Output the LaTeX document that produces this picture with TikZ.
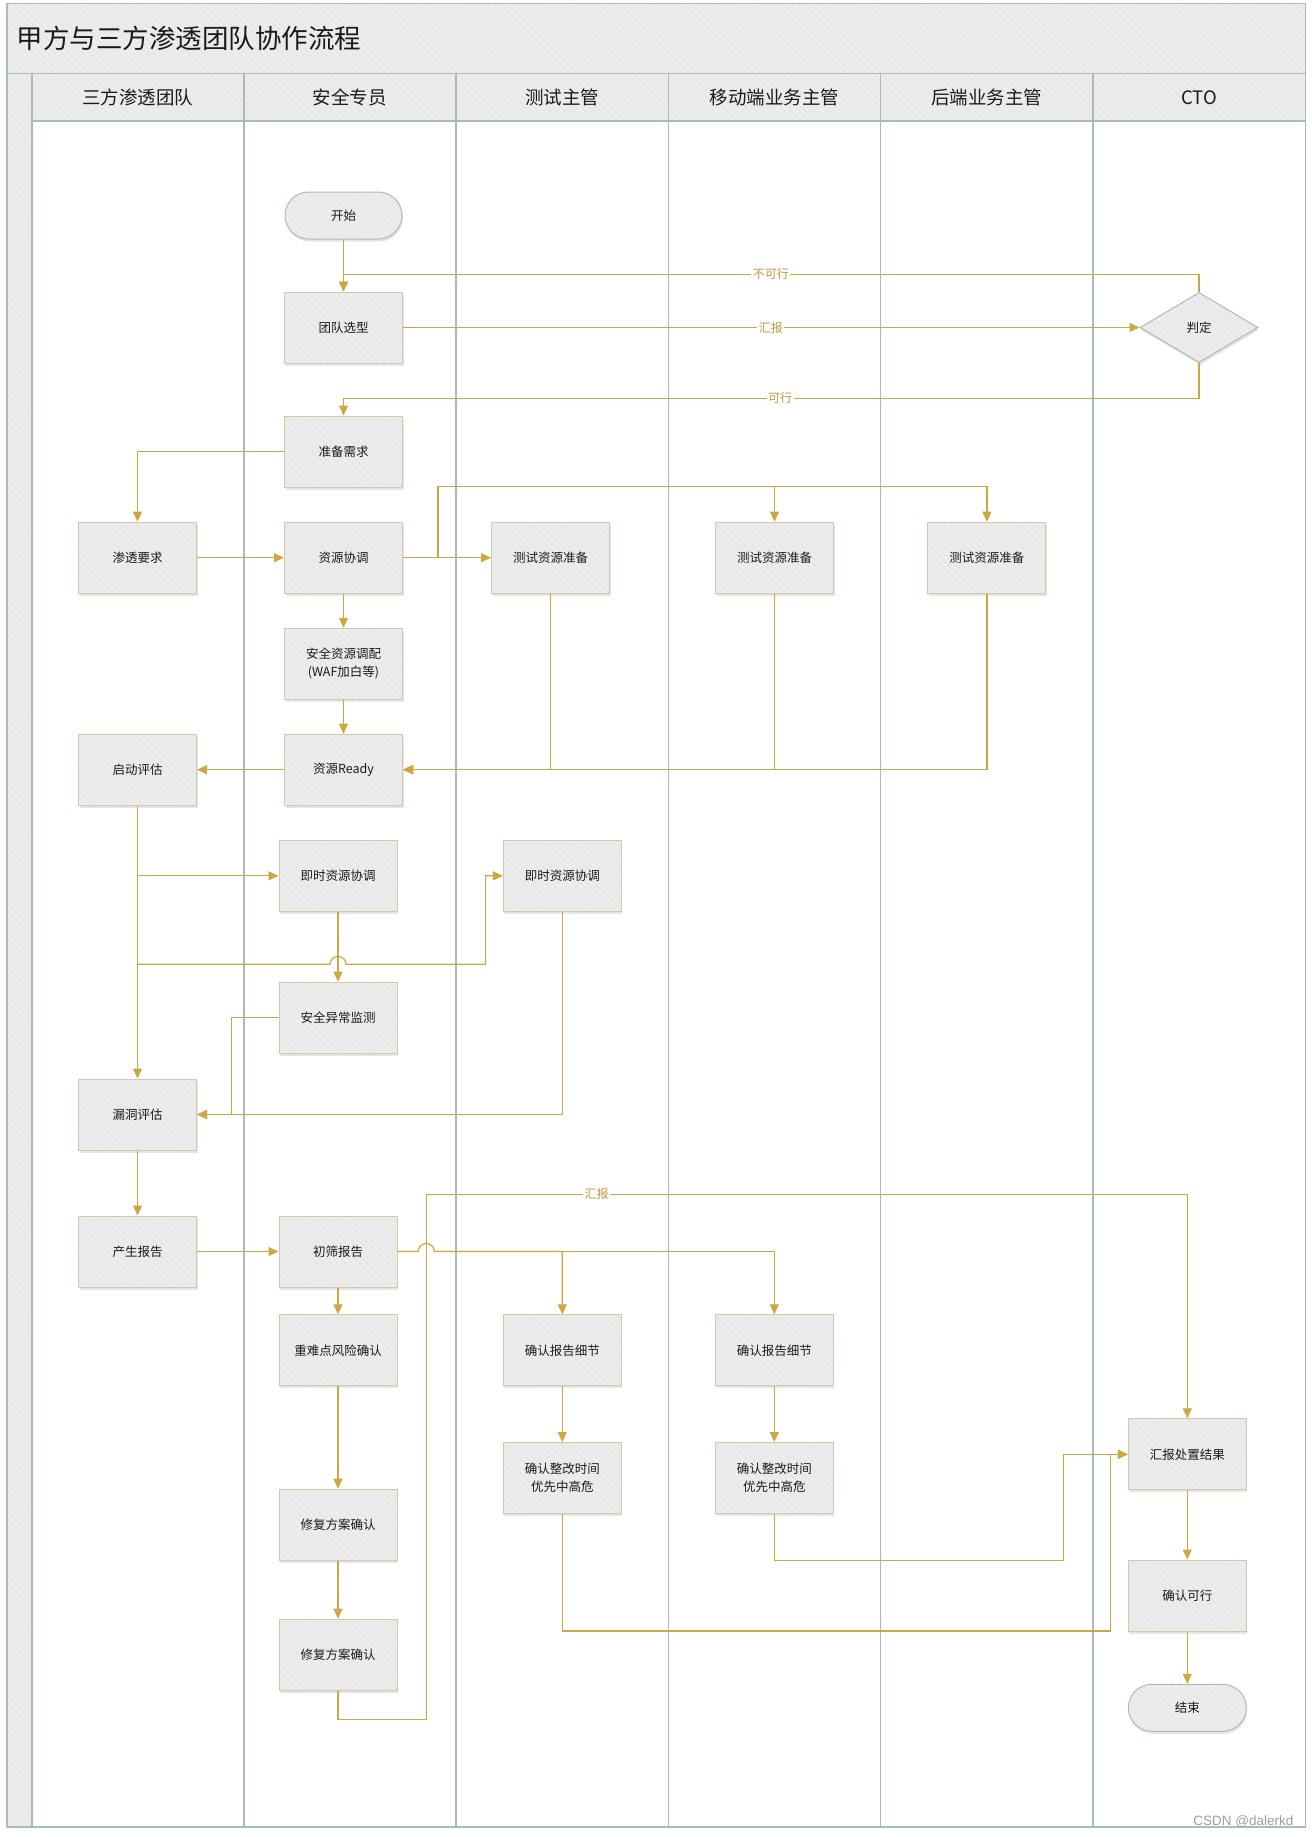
\documentclass[tikz,border=0pt]{standalone}
\usepackage{fontspec}
\newfontfamily\cjk{Noto Sans CJK SC}
\newfontfamily\wm{Liberation Sans}
\usetikzlibrary{arrows.meta,shapes.geometric,shadows,patterns.meta,calc}
\definecolor{gold}{HTML}{CCA843}
\definecolor{lane}{HTML}{A9BDB7}
\definecolor{boxedge}{HTML}{D2C9A8}
\definecolor{bg}{HTML}{ECECEC}
\definecolor{hatch}{HTML}{E6E6E6}
\definecolor{lbl}{HTML}{B8993A}
\definecolor{ink}{HTML}{1A1A1A}
\begin{document}
\begin{tikzpicture}[x=1pt,y=-1pt,
  every node/.style={font=\cjk, text=ink},
  hatched/.style={preaction={fill=bg}, pattern={Lines[angle=-45,distance=5pt,line width=1pt]}, pattern color=hatch},
  shad/.style={drop shadow={shadow xshift=1pt,shadow yshift=-2.5pt,opacity=0.22,fill=black!45}},
  proc/.style={rectangle, draw=boxedge, line width=1pt, minimum width=118pt, minimum height=71pt, inner sep=0pt, shad, hatched, font=\cjk\fontsize{12.5}{18}\selectfont, align=center},
  term/.style={rectangle, rounded corners=23.5pt, draw=lane, line width=1pt, minimum width=117pt, minimum height=47pt, inner sep=0pt, shad, hatched, font=\cjk\fontsize{12.5}{16}\selectfont},
  decide/.style={diamond, aspect=1.686, draw=lane, line width=1pt, minimum width=118pt, minimum height=70pt, inner sep=0pt, shad, hatched, font=\cjk\fontsize{12.5}{16}\selectfont},
  laneline/.style={draw=lane, line width=1.8pt},
  flow/.style={draw=gold, line width=1.2pt, -{Triangle[length=10pt,width=9pt]}},
  lbl/.style={fill=white, inner sep=1.5pt, text=lbl, font=\cjk\fontsize{12}{14}\selectfont},
  hdr/.style={font=\cjk\fontsize{18.5}{22}\selectfont}
]
\useasboundingbox (0,0) rectangle (1312,1837);
\fill[white] (0,0) rectangle (1312,1837);
% frame, title band, header row, left strip
\path[hatched] (7,3.5) rectangle (1305.5,73.5);
\path[hatched] (7,73.5) rectangle (31.6,1827);
\path[hatched] (31.6,73.5) rectangle (1305.5,121.3);
\draw[laneline] (7,3.5) rectangle (1305.5,1827);
\draw[laneline] (7,73.5) -- (1305.5,73.5);
\draw[laneline] (31.6,121.3) -- (1305.5,121.3);
\foreach \x in {31.6,243.7,455.7,668.5,880.5,1092.7} \draw[laneline] (\x,73.5) -- (\x,1827);
\node[anchor=west, font=\cjk\fontsize{26.5}{32}\selectfont] (title) at (13,38.5) {甲方与三方渗透团队协作流程};
\node[hdr] (h1) at (137.6,97.5) {三方渗透团队};
\node[hdr] (h2) at (349.7,97.5) {安全专员};
\node[hdr] (h3) at (562.1,97.5) {测试主管};
\node[hdr] (h4) at (774.5,97.5) {移动端业务主管};
\node[hdr] (h5) at (986.6,97.5) {后端业务主管};
\node[hdr] (h6) at (1199.1,97.5) {CTO};

% nodes
\node[term] (start) at (343.5,215.5) {开始};
\node[proc] (xuanxing) at (343.5,327.5) {团队选型};
\node[decide] (pd) at (1199,327.5) {判定};
\node[proc] (zhunbei) at (343.5,451.5) {准备需求};
\node[proc] (stqq) at (137.5,557.7) {渗透要求};
\node[proc] (zyxt) at (343.5,557.7) {资源协调};
\node[proc] (test3) at (550.5,557.7) {测试资源准备};
\node[proc] (test4) at (774.5,557.7) {测试资源准备};
\node[proc] (test5) at (986.9,557.7) {测试资源准备};
\node[proc] (aqzy) at (343.5,663.8) {安全资源调配\\(WAF加白等)};
\node[proc] (ready) at (343.5,769.7) {资源Ready};
\node[proc] (qdpg) at (137.5,769.7) {启动评估};
\node[proc] (jszy1) at (338,875.8) {即时资源协调};
\node[proc] (jszy2) at (562.3,875.8) {即时资源协调};
\node[proc] (aqyc) at (338,1017.7) {安全异常监测};
\node[proc] (ldpg) at (137.5,1114.5) {漏洞评估};
\node[proc] (csbg) at (137.5,1251.5) {产生报告};
\node[proc] (cs2) at (338,1251.5) {初筛报告};
\node[proc] (znd) at (338,1350.3) {重难点风险确认};
\node[proc] (xf1) at (338,1524.7) {修复方案确认};
\node[proc] (xf2) at (338,1654.7) {修复方案确认};
\node[proc] (qrbg3) at (562.3,1350.3) {确认报告细节};
\node[proc] (qrbg4) at (774.3,1350.3) {确认报告细节};
\node[proc] (qrzg3) at (562.3,1478) {确认整改时间\\优先中高危};
\node[proc] (qrzg4) at (774.3,1478) {确认整改时间\\优先中高危};
\node[proc] (hbcz) at (1187.3,1454.3) {汇报处置结果};
\node[proc] (qrkx) at (1187.3,1595.5) {确认可行};
\node[term, minimum width=118pt] (end) at (1187.3,1707.8) {结束};

% helper coordinates
\coordinate (nk) at (770.8,274.3);
\coordinate (kx) at (780,398.3);
\coordinate (br1) at (438,486.7);
\coordinate (hp1) at (485.6,964.3);
\coordinate (c16) at (231.8,1017.7);
\coordinate (hb1) at (426.3,1719.3);
\coordinate (hb2) at (426.3,1194.3);
\coordinate (c24) at (1110.6,1631);
\coordinate (c25) at (1063.5,1560.3);

% connectors
\draw[flow] (start.south) -- (xuanxing.north);
\draw[flow] (xuanxing.east) -- (pd.west);
\draw[flow] (pd.north) |- (xuanxing.north |- nk) -- (xuanxing.north);
\draw[flow] (pd.south) |- (zhunbei.north |- kx) -- (zhunbei.north);
\draw[flow] (zhunbei.west) -| (stqq.north);
\draw[flow] (stqq.east) -- (zyxt.west);
\draw[flow] (zyxt.east) -- (test3.west);
\draw[flow] (zyxt.east) -| (br1) -| (test4.north);
\draw[flow] (br1) -| (test5.north);
\draw[flow] (zyxt.south) -- (aqzy.north);
\draw[flow] (aqzy.south) -- (ready.north);
\draw[flow] (test3.south) |- (ready.east);
\draw[flow] (test4.south) |- (ready.east);
\draw[flow] (test5.south) |- (ready.east);
\draw[flow] (ready.west) -- (qdpg.east);
\draw[flow] (qdpg.south) -- (ldpg.north);
\draw[flow] (qdpg.south |- jszy1.west) -- (jszy1.west);
\draw[flow] (qdpg.south |- hp1) -- ($(jszy1.south |- hp1)+(-8,0)$) arc[start angle=180,end angle=0,radius=8pt] -- (hp1) |- (jszy2.west);
\draw[flow] (jszy1.south) -- (aqyc.north);
\draw[flow] (aqyc.west) -- (c16) |- (ldpg.east);
\draw[flow] (jszy2.south) |- (ldpg.east);
\draw[flow] (ldpg.south) -- (csbg.north);
\draw[flow] (csbg.east) -- (cs2.west);
\draw[flow] (cs2.east) -- ($(hb2 |- cs2.east)+(-8,0)$) arc[start angle=180,end angle=0,radius=8pt] -| (qrbg3.north);
\draw[flow] (qrbg3.north |- cs2.east) -| (qrbg4.north);
\draw[flow] (cs2.south) -- (znd.north);
\draw[flow] (znd.south) -- (xf1.north);
\draw[flow] (xf1.south) -- (xf2.north);
\draw[flow] (xf2.south) |- (hb1) -- (hb2) -| (hbcz.north);
\draw[flow] (qrbg3.south) -- (qrzg3.north);
\draw[flow] (qrbg4.south) -- (qrzg4.north);
\draw[flow] (qrzg3.south) |- (c24) |- (hbcz.west);
\draw[flow] (qrzg4.south) |- (c25) |- (hbcz.west);
\draw[flow] (hbcz.south) -- (qrkx.north);
\draw[flow] (qrkx.south) -- (end.north);

% line labels
\node[lbl] (l1) at (nk) {不可行};
\node[lbl] (l2) at (770.8,327.5) {汇报};
\node[lbl] (l3) at (kx) {可行};
\node[lbl] (l4) at (596.7,1194.3) {汇报};

\node[anchor=east, font=\wm\fontsize{13.5}{15}\selectfont, text=black!38] (wm) at (1297,1822) {CSDN @dalerkd};
\end{tikzpicture}
\end{document}
